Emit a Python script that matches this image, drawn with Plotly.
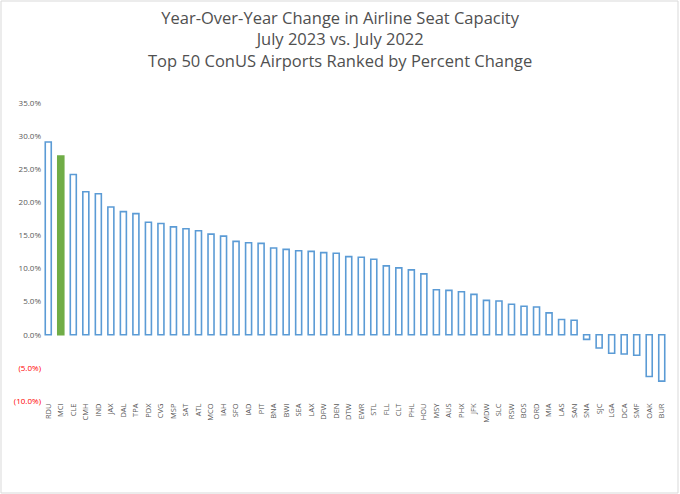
import plotly.graph_objects as go

airports = ["RDU", "MCI", "CLE", "CMH", "IND", "JAX", "DAL", "TPA", "PDX", "CVG",
            "MSP", "SAT", "ATL", "MCO", "IAH", "SFO", "IAD", "PIT", "BNA", "BWI",
            "SEA", "LAX", "DFW", "DEN", "DTW", "EWR", "STL", "FLL", "CLT", "PHL",
            "HOU", "MSY", "AUS", "PHX", "JFK", "MDW", "SLC", "RSW", "BOS", "ORD",
            "MIA", "LAS", "SAN", "SNA", "SJC", "LGA", "DCA", "SMF", "OAK", "BUR"]
pct_change = [29.1, 27.0, 24.2, 21.6, 21.3, 19.3, 18.6, 18.3, 17.0, 16.8,
              16.3, 16.0, 15.7, 15.2, 14.9, 14.1, 13.9, 13.8, 13.1, 12.9,
              12.7, 12.6, 12.4, 12.3, 11.8, 11.7, 11.4, 10.4, 10.1, 9.8,
              9.2, 6.8, 6.7, 6.5, 6.1, 5.2, 5.1, 4.6, 4.3, 4.2,
              3.3, 2.3, 2.2, -0.7, -2.0, -2.8, -2.9, -3.1, -6.3, -7.0]
highlight = "MCI"

y_ticks = [-10, -5, 0, 5, 10, 15, 20, 25, 30, 35]
y_tick_text = ["<span style='color:#FF0000'>(10.0%)</span>",
               "<span style='color:#FF0000'>(5.0%)</span>",
               "0.0%", "5.0%", "10.0%", "15.0%", "20.0%", "25.0%", "30.0%", "35.0%"]

title_lines = ["Year-Over-Year Change in Airline Seat Capacity",
               "July 2023 vs. July 2022",
               "Top 50 ConUS Airports Ranked by Percent Change"]

W, H = 680, 494
ml, mr, mt, mb = 42, 12, 103, 93

blue = "#5B9BD5"
green = "#70AD47"
fills = [green if a == highlight else "white" for a in airports]
lines = [green if a == highlight else blue for a in airports]

fig = go.Figure()
fig.add_trace(go.Bar(
    x=airports, y=pct_change,
    marker=dict(color=fills, line=dict(color=lines, width=1.6)),
    width=0.48,
))

pw = W - ml - mr
ph = H - mt - mb
# light grey chart border
fig.add_shape(type="rect", xref="paper", yref="paper",
              x0=(1 - ml) / pw, x1=(W - 2 - ml) / pw,
              y0=-(mb - 1) / ph, y1=(ph + mt - 1) / ph,
              line=dict(color="#D9D9D9", width=1))

fig.add_annotation(
    text="<br>".join(title_lines),
    xref="paper", yref="paper",
    x=(340 - ml) / pw, y=(ph + mt - 4) / ph,
    xanchor="center", yanchor="top", showarrow=False,
    font=dict(size=16.5, color="#505050"),
)

fig.update_layout(
    width=W, height=H,
    margin=dict(l=ml, r=mr, t=mt, b=mb, autoexpand=False),
    paper_bgcolor="white", plot_bgcolor="white",
    showlegend=False,
    font=dict(family="Open Sans, Liberation Sans, sans-serif", color="#595959"),
    xaxis=dict(
        tickangle=-90, tickfont=dict(size=7.5, color="#595959"),
        showgrid=False, showline=False, ticks="", zeroline=False,
        range=[-0.5, len(airports) - 0.5], automargin=False,
    ),
    yaxis=dict(
        range=[-10, 35], tickvals=y_ticks, ticktext=y_tick_text,
        tickfont=dict(size=8, color="#595959"),
        showgrid=False, zeroline=False, showline=False, ticks="",
        automargin=False,
    ),
)

fig.write_html("out.html", config={"displayModeBar": False},
               post_script="document.body.style.margin='0';")
